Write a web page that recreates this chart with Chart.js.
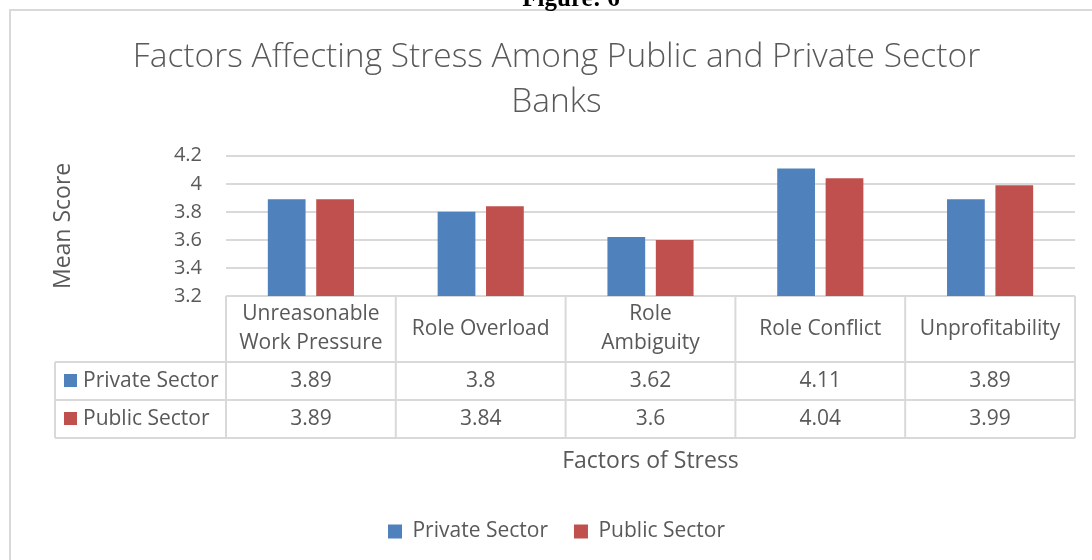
<!DOCTYPE html>
<html><head><meta charset="utf-8">
<script src="https://cdn.jsdelivr.net/npm/chart.js@4.4.1/dist/chart.umd.min.js"></script>
<style>html,body{margin:0;padding:0;background:#fff;overflow:hidden}</style>
</head><body>
<canvas id="c" width="1092" height="560" style="display:block;width:1092px;height:560px"></canvas>
<script>
const categories = [["Unreasonable","Work Pressure"],["Role Overload"],["Role","Ambiguity"],["Role Conflict"],["Unprofitability"]];
const seriesNames = ["Private Sector","Public Sector"];
const privateSector = [3.89,3.8,3.62,4.11,3.89];
const publicSector = [3.89,3.84,3.6,4.04,3.99];
const yTicks = [3.2,3.4,3.6,3.8,4,4.2];
const colors = ["#4F81BD","#C0504D"];
const TXT = "#595959";
const LINE = "#d9d9d9";
const FONT = "'Open Sans', sans-serif";

const tablePlugin = {
  id: 'tbl',
  beforeDraw(chart){
    const ctx = chart.ctx;
    ctx.save();
    ctx.fillStyle = '#fff'; ctx.fillRect(0,0,chart.width,chart.height);
    ctx.strokeStyle = LINE; ctx.lineWidth = 2;
    ctx.strokeRect(10,10,1200,700);
    ctx.fillStyle = '#000'; ctx.font = "bold 25px 'Liberation Serif'";
    ctx.textAlign = 'center'; ctx.textBaseline = 'alphabetic';
    ctx.fillText('Figure: 6', 571, 6);
    ctx.restore();
  },
  afterDraw(chart){
    const ctx = chart.ctx, xs = chart.scales.x, ys = chart.scales.y;
    const n = categories.length;
    const L = xs.left, R = xs.right, w = (R - L)/n;
    const top = ys.bottom, hdrH = 66, rowH = 38;
    const r1 = top + hdrH, r2 = r1 + rowH, r3 = r2 + rowH;
    const legL = 55;
    ctx.save();
    ctx.strokeStyle = LINE; ctx.lineWidth = 2;
    ctx.beginPath();
    for (let i=0;i<=n;i++){ const x = L + i*w; ctx.moveTo(x, top); ctx.lineTo(x, r3); }
    ctx.moveTo(legL, r1); ctx.lineTo(legL, r3);
    [r1,r2,r3].forEach(y=>{ ctx.moveTo(legL, y); ctx.lineTo(R, y); });
    ctx.stroke();
    ctx.fillStyle = TXT; ctx.font = "21px " + FONT;
    ctx.textAlign = 'center'; ctx.textBaseline = 'middle';
    categories.forEach((lab,i)=>{
      const cx = xs.getPixelForValue(i);
      const cy = top + hdrH/2, lh = 29;
      lab.forEach((t,j)=>{ ctx.fillText(t, cx, cy + (j - (lab.length-1)/2)*lh); });
    });
    const rows = [privateSector, publicSector];
    rows.forEach((vals,ri)=>{
      const cy = r1 + rowH*ri + rowH/2;
      vals.forEach((v,i)=>{ ctx.fillText(String(v), xs.getPixelForValue(i), cy); });
      ctx.fillStyle = colors[ri]; ctx.fillRect(64, cy-7, 13, 13);
      ctx.fillStyle = TXT; ctx.textAlign = 'left';
      ctx.fillText(seriesNames[ri], 83, cy);
      ctx.textAlign = 'center';
    });
    ctx.restore();
  }
};

new Chart(document.getElementById('c'), {
  type: 'bar',
  data: {
    labels: categories.map(c=>c.join(' ')),
    datasets: [
      {label: seriesNames[0], data: privateSector, backgroundColor: colors[0], borderWidth: 0},
      {label: seriesNames[1], data: publicSector, backgroundColor: colors[1], borderWidth: 0}
    ]
  },
  options: {
    responsive: false, animation: false,
    devicePixelRatio: 1,
    categoryPercentage: 0.57, barPercentage: 0.78,
    layout: {padding: {left: 38, right: 17, top: 0, bottom: 8}},
    plugins: {
      title: {display: true, text: ["Factors Affecting Stress Among Public and Private Sector","Banks"],
        color: TXT, font: {family: FONT, size: 33.5, weight: '300', lineHeight: 1.34},
        padding: {top: 35, bottom: 31}},
      legend: {position: 'bottom', labels: {color: TXT, font: {family: FONT, size: 21}, boxWidth: 14, boxHeight: 14, padding: 26}},
      tooltip: {enabled: false}
    },
    scales: {
      x: {
        grid: {display: false, drawTicks: false}, border: {display: false},
        ticks: {display: false},
        title: {display: true, text: "Factors of Stress", color: TXT, font: {family: FONT, size: 23, lineHeight: 1.2}, padding: {top: 0, bottom: 20}},
        afterFit(s){ s.height = 199; }
      },
      y: {
        min: 3.2, max: 4.2,
        grid: {color: LINE, lineWidth: 2, drawTicks: false}, border: {display: false},
        ticks: {stepSize: 0.2, color: TXT, font: {family: FONT, size: 20}, padding: 24,
          callback: (v)=> { const t = yTicks.find(k=>Math.abs(k-v)<1e-6); return t===undefined? '' : String(t); }},
        title: {display: true, text: "Mean Score", color: TXT, font: {family: FONT, size: 23}, padding: {top: 12, bottom: 0}},
        afterFit(s){ s.width = 188; }
      }
    }
  },
  plugins: [tablePlugin]
});
</script>
</body></html>
